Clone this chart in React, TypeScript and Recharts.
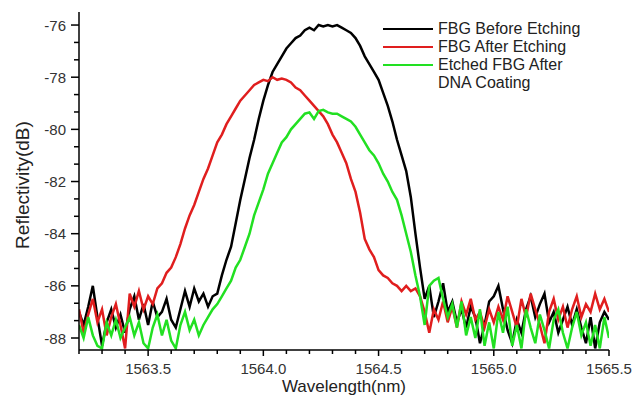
import { LineChart, Line, XAxis, YAxis, Label } from 'recharts';

// sampling grid of the spectra (nm)
const startWl = 1563.2;
const stepWl = 0.02;

// FBG Before Etching (dB)
const beforeDb = [
  -87.0, -87.5, -86.8, -86.0, -87.2, -88.3, -87.4, -86.9, -87.6, -87.1,
  -87.8, -86.9, -86.4, -87.3, -86.7, -87.5, -86.6, -87.2, -87.0, -86.5,
  -87.3, -87.6, -86.9, -86.2, -86.8, -86.1, -86.6, -86.3, -86.8, -86.4,
  -86.3, -85.6, -85.0, -84.5, -83.6, -82.7, -81.9, -81.1, -80.4, -79.6,
  -78.9, -78.3, -77.8, -77.5, -77.2, -76.9, -76.7, -76.5, -76.4, -76.2,
  -76.1, -76.2, -76.0, -76.05, -76.0, -76.05, -76.0, -76.1, -76.2, -76.3,
  -76.5, -76.8, -77.2, -77.5, -77.8, -78.1, -78.6, -79.1, -79.7, -80.4,
  -81.0, -81.6, -82.6, -84.0, -85.3, -86.5, -86.0, -87.2, -86.6, -85.9,
  -87.0, -86.6, -87.4, -86.9, -87.6, -86.8, -87.2, -88.2, -87.5, -86.6,
  -86.4, -86.0, -86.9, -87.7, -88.2, -87.3, -87.8, -86.9, -86.4, -87.2,
  -86.7, -86.3, -87.4, -87.0, -87.8, -87.3, -86.8, -87.5, -86.9, -87.6,
  -88.2, -87.2, -88.4, -87.4, -87.0, -87.3,
];

// FBG After Etching (dB)
const afterDb = [
  -86.9, -87.8, -87.1, -86.5, -87.4, -86.9, -87.9, -87.2, -86.7, -87.5,
  -88.4, -86.3, -86.8, -86.2, -86.9, -86.4, -86.7, -86.1, -85.9, -85.5,
  -85.3, -84.9, -84.4, -83.8, -83.3, -82.9, -82.4, -81.9, -81.5, -81.0,
  -80.5, -80.2, -79.8, -79.5, -79.2, -78.9, -78.7, -78.5, -78.3, -78.2,
  -78.1, -78.15, -78.0, -78.1, -78.05, -78.1, -78.2, -78.4, -78.5, -78.7,
  -78.9, -79.1, -79.3, -79.5, -79.8, -80.2, -80.5, -80.9, -81.3, -81.9,
  -82.4, -83.2, -84.2, -84.6, -84.9, -85.4, -85.6, -85.7, -85.9, -86.0,
  -86.2, -86.0, -86.2, -86.1, -86.4, -87.0, -87.8, -86.9, -87.3, -86.6,
  -87.4, -86.8, -87.6, -86.6, -87.1, -86.5, -87.3, -87.0, -87.6, -86.9,
  -87.4, -86.8, -87.3, -86.4, -87.0, -87.6, -86.5, -87.2, -86.3, -86.9,
  -87.5, -88.2, -87.0, -86.5, -87.3, -86.8, -87.6, -86.9, -86.4, -87.2,
  -86.7, -87.0, -86.3, -86.9, -86.5, -87.0,
];

// Etched FBG After DNA Coating (dB)
const dnaDb = [
  -87.5, -88.0, -87.2, -87.9, -88.3, -88.4, -87.4, -87.9, -87.3, -88.0,
  -87.6, -87.2, -87.9, -87.4, -88.2, -88.4, -87.6, -87.1, -87.9, -87.3,
  -88.1, -88.4, -87.5, -87.0, -87.7, -87.3, -87.9, -87.5, -87.2, -86.9,
  -86.7, -86.4, -86.1, -85.8, -85.3, -85.0, -84.5, -84.0, -83.3, -82.8,
  -82.3, -81.7, -81.3, -80.9, -80.5, -80.3, -80.0, -79.8, -79.6, -79.4,
  -79.35, -79.6, -79.3, -79.25, -79.35, -79.4, -79.4, -79.5, -79.6, -79.7,
  -79.9, -80.2, -80.5, -80.8, -81.0, -81.3, -81.7, -82.0, -82.4, -82.7,
  -83.3, -84.0, -84.7, -85.6, -86.4, -87.5, -86.0, -85.8, -85.7, -86.5,
  -87.2, -86.7, -87.6, -86.6, -87.9, -87.2, -88.0, -86.9, -88.3, -87.4,
  -88.4, -87.0, -87.8, -86.8, -88.3, -87.5, -88.4, -86.9, -87.6, -88.2,
  -87.1, -87.7, -88.4, -87.3, -86.9, -87.8, -88.4, -87.6, -87.0, -87.9,
  -87.4, -88.3, -87.5, -88.4, -87.2, -88.0,
];

const xTicks = [
  1563.2, 1563.3, 1563.4, 1563.5, 1563.6, 1563.7, 1563.8, 1563.9, 1564.0, 1564.1,
  1564.2, 1564.3, 1564.4, 1564.5, 1564.6, 1564.7, 1564.8, 1564.9, 1565.0, 1565.1,
  1565.2, 1565.3, 1565.4, 1565.5,
];
const xMajor = [1563.5, 1564.0, 1564.5, 1565.0, 1565.5];
const yMajor = [-88, -86, -84, -82, -80, -78, -76];
const yTicks = yMajor.flatMap((v) => (v < -76 ? [v, v + 2 / 3, v + 4 / 3] : [v]));

const legendItems = [
  { label: 'FBG Before Etching', color: '#000000' },
  { label: 'FBG After Etching', color: '#e01e1e' },
  { label: 'Etched FBG After', color: '#22e022' },
];

const data = beforeDb.map((v, i) => ({
  wl: +(startWl + i * stepWl).toFixed(2),
  before: v,
  after: afterDb[i],
  dna: dnaDb[i],
}));

const isMajor = (list: number[], v: number) => list.some((m) => Math.abs(m - v) < 1e-6);

const XTick = ({ x, y, payload }: any) => {
  const major = isMajor(xMajor, payload.value);
  return (
    <g>
      <line x1={x} x2={x} y1={y} y2={y + (major ? 6 : 4)} stroke="#000" strokeWidth={1.5} />
      {major && (
        <text x={x} y={y + 18} textAnchor="middle" dominantBaseline="central" fontSize={15} fill="#333">
          {payload.value.toFixed(1)}
        </text>
      )}
    </g>
  );
};

const YTick = ({ x, y, payload }: any) => {
  const major = isMajor(yMajor, payload.value);
  return (
    <g>
      <line x1={x - (major ? 8 : 5)} x2={x} y1={y} y2={y} stroke="#000" strokeWidth={1.5} />
      {major && (
        <text x={x - 13} y={y} textAnchor="end" dominantBaseline="central" fontSize={15} fill="#333">
          {payload.value}
        </text>
      )}
    </g>
  );
};

const LegendBox = () => (
  <div
    style={{
      position: 'absolute',
      left: 383,
      top: 20,
      fontFamily: '"Liberation Sans", Arial, sans-serif',
      fontSize: 16,
      color: '#222',
      lineHeight: '18px',
      whiteSpace: 'nowrap',
    }}
  >
    {legendItems.map((it) => (
      <div key={it.label} style={{ display: 'flex', alignItems: 'center' }}>
        <span style={{ display: 'inline-block', width: 50, height: 2.5, background: it.color, marginRight: 5 }} />
        <span>{it.label}</span>
      </div>
    ))}
    <div style={{ paddingLeft: 55 }}>DNA Coating</div>
  </div>
);

export default function App() {
  return (
    <div style={{ position: 'absolute', left: 0, top: 0, width: 635, height: 403, background: '#fff' }}>
      <LineChart
        width={635}
        height={403}
        data={data}
        margin={{ top: 12, right: 26, left: 19, bottom: 9 }}
        style={{ fontFamily: '"Liberation Sans", Arial, sans-serif' }}
      >
        <XAxis
          dataKey="wl"
          type="number"
          domain={[1563.2, 1565.5]}
          ticks={xTicks}
          interval={0}
          allowDataOverflow
          height={44}
          tickSize={0}
          tickMargin={0}
          tickLine={false}
          tick={<XTick />}
          axisLine={{ stroke: '#000', strokeWidth: 1.5 }}
        >
          <Label
            content={({ viewBox }: any) => (
              <text
                x={viewBox.x + viewBox.width / 2}
                y={386}
                textAnchor="middle"
                dominantBaseline="central"
                fontSize={17}
                fill="#222"
              >
                Wavelength(nm)
              </text>
            )}
          />
        </XAxis>
        <XAxis
          xAxisId="top"
          orientation="top"
          dataKey="wl"
          type="number"
          domain={[1563.2, 1565.5]}
          height={0}
          tick={false}
          tickLine={false}
          axisLine={{ stroke: '#bbb', strokeWidth: 1 }}
        />
        <YAxis
          type="number"
          domain={[-88.46, -75.5]}
          ticks={yTicks}
          interval={0}
          allowDataOverflow
          width={60}
          tickSize={0}
          tickMargin={0}
          tickLine={false}
          tick={<YTick />}
          axisLine={{ stroke: '#000', strokeWidth: 1.5 }}
        >
          <Label
            content={() => (
              <text
                x={22}
                y={185}
                transform="rotate(-90, 22, 185)"
                textAnchor="middle"
                dominantBaseline="central"
                fontSize={19}
                fill="#222"
              >
                Reflectivity(dB)
              </text>
            )}
          />
        </YAxis>
        <YAxis
          yAxisId="right"
          orientation="right"
          type="number"
          domain={[-88.46, -75.5]}
          width={0}
          tick={false}
          tickLine={false}
          axisLine={{ stroke: '#bbb', strokeWidth: 1 }}
        />
        <Line type="linear" dataKey="before" stroke="#000000" strokeWidth={2.5} dot={false} isAnimationActive={false} />
        <Line type="linear" dataKey="after" stroke="#e01e1e" strokeWidth={2.5} dot={false} isAnimationActive={false} />
        <Line type="linear" dataKey="dna" stroke="#22e022" strokeWidth={2.5} dot={false} isAnimationActive={false} />
      </LineChart>
      <LegendBox />
    </div>
  );
}
